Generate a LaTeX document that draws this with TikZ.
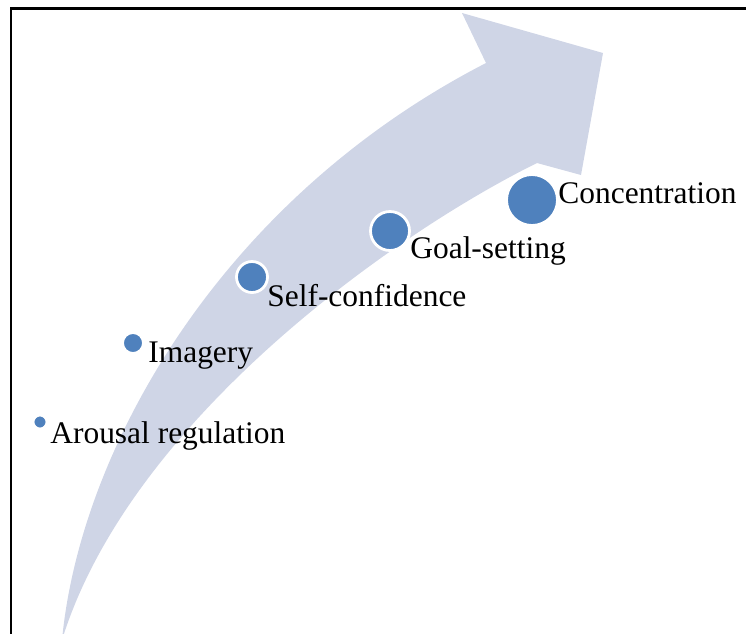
\documentclass[tikz,border=0pt]{standalone}
\usepackage{fontspec}
\setmainfont{Liberation Serif}
\usepackage{xcolor}
\definecolor{bandblue}{RGB}{207,213,230}
\definecolor{dotblue}{RGB}{79,129,189}

\begin{document}
\begin{tikzpicture}[x=0.02cm, y=-0.02cm,
            dot/.style={shape=circle, inner sep=0pt, fill=dotblue, draw=white, line width=1.6pt},
            lbl/.style={anchor=base west, inner sep=0pt, font=\fontsize{17.9pt}{21pt}\selectfont}]
        \clip (0,0) rectangle (746,633);
        \draw[line width=1.7pt] (11,8.5) rectangle (760,650);

        \fill[bandblue] (62,640) .. controls (80,450) and (220,200) .. (486,63)
            -- (462,13) -- (603,53) -- (581,175) -- (537,163)
            .. controls (395,233) and (130,420) .. (62,640) -- cycle;

        \node[dot, minimum size=0.28cm] (arousal) at (40,422) {};
        \node[dot, minimum size=0.42cm] (imagery) at (133,343) {};
        \node[dot, minimum size=0.62cm] (selfconf) at (252,277) {};
        \node[dot, minimum size=0.78cm] (goal) at (390,231) {};
        \node[dot, minimum size=1.02cm] (conc) at (532,200) {};

        \node[lbl] (arousal-l) at (50,443) {Arousal regulation};
        \node[lbl] (imagery-l) at (148,362) {Imagery};
        \node[lbl] (selfconf-l) at (267,306) {Self-confidence};
        \node[lbl] (goal-l) at (410,258) {Goal-setting};
        \node[lbl] (conc-l) at (558,203) {Concentration};
\end{tikzpicture}
\end{document}
